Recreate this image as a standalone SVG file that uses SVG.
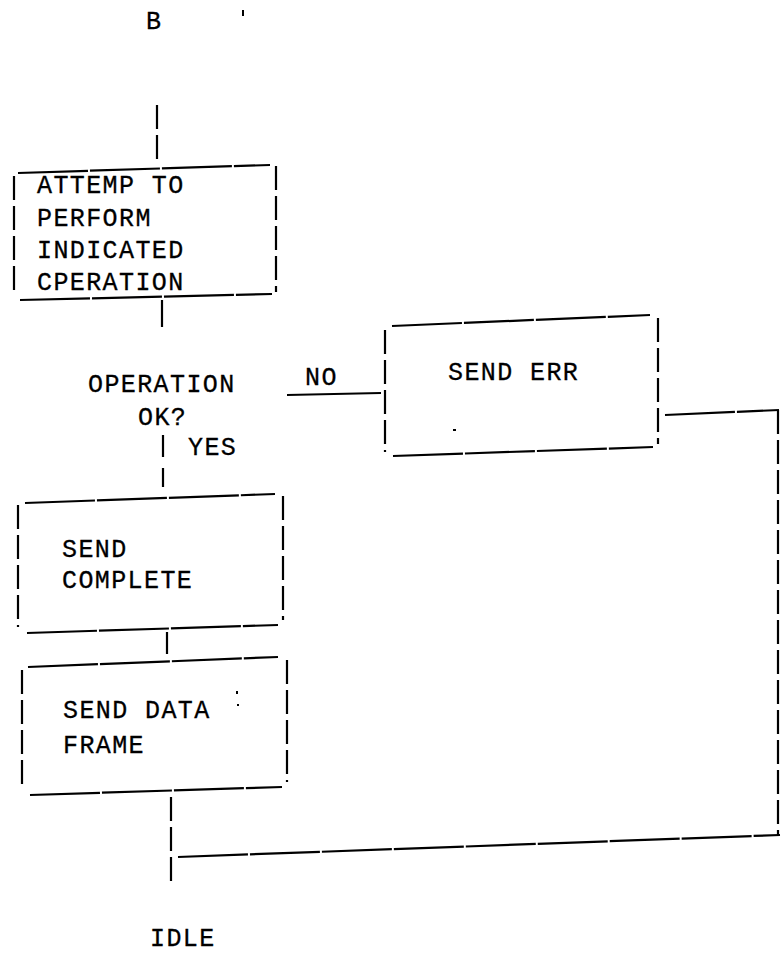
<svg xmlns="http://www.w3.org/2000/svg" width="782" height="953" viewBox="0 0 782 953">
<style>
text{font-family:"Liberation Mono","Courier New",monospace;font-size:25px;letter-spacing:1.4px;fill:#000;stroke:#000;stroke-width:0.3}
.v{stroke:#000;stroke-width:2.2;fill:none;stroke-dasharray:24 6}
.h{stroke:#000;stroke-width:2.2;fill:none;stroke-dasharray:70 2}
.s{stroke:#000;stroke-width:2.2;fill:none}
</style>
<rect width="782" height="953" fill="#fff"/>
<text x="146" y="29">B</text>
<rect x="242" y="10" width="2" height="6" fill="#000"/>
<g id="connectors">
<path class="v" d="M157 105V162"/>
<path class="s" d="M162 300V327"/>
<path class="s" d="M287 395L381 393"/>
<path class="s" d="M163 435V457"/>
<path class="s" d="M163 468V487"/>
<path class="s" d="M167 632V654"/>
<path class="h" d="M665 415L779 410"/>
<path class="v" d="M778 410V835"/>
<path class="h" d="M178 857L780 835"/>
<path class="v" d="M171 797V883"/>
</g>
<g id="attempt">
<path class="h" d="M18 173L270 165"/>
<path class="h" d="M20 300L272 294"/>
<path class="v" d="M14 176V296"/>
<path class="v" d="M276 166V292"/>
<text x="37" y="193">ATTEMP TO</text>
<text x="37" y="226">PERFORM</text>
<text x="37" y="258">INDICATED</text>
<text x="37" y="290">CPERATION</text>
</g>
<g id="decision">
<text x="88" y="392">OPERATION</text>
<text x="138" y="425">OK?</text>
<text x="305" y="385">NO</text>
<text x="188" y="455">YES</text>
</g>
<g id="senderr">
<path class="h" d="M392 326L650 315"/>
<path class="h" d="M393 456L653 447"/>
<path class="v" d="M385 330V452"/>
<path class="v" d="M658 318V444"/>
<text x="448" y="380">SEND ERR</text>
<rect x="453" y="429" width="3" height="2" fill="#000"/>
</g>
<g id="sendcomplete">
<path class="h" d="M25 503L275 494"/>
<path class="h" d="M27 633L278 625"/>
<path class="v" d="M18 505V627"/>
<path class="v" d="M283 496V620"/>
<text x="62" y="557">SEND</text>
<text x="62" y="588">COMPLETE</text>
</g>
<g id="senddata">
<path class="h" d="M28 667L278 657"/>
<path class="h" d="M30 795L282 787"/>
<path class="v" d="M22 670V790"/>
<path class="v" d="M287 660V782"/>
<text x="63" y="718">SEND DATA</text>
<text x="63" y="753">FRAME</text>
<rect x="236" y="691" width="2" height="3" fill="#000"/>
<rect x="237" y="704" width="2" height="2" fill="#000"/>
</g>
<g id="idle">
<text x="150" y="946">IDLE</text>
</g>
</svg>
